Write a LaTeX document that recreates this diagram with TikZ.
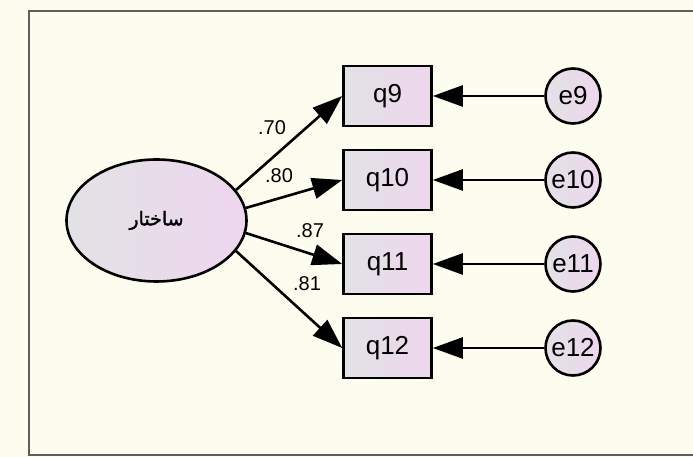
\documentclass[tikz,border=0pt]{standalone}
\usepackage{fontspec}
\setmainfont{Liberation Sans}
\newfontfamily\arabicfont[Script=Arabic,FakeBold=1.5]{DejaVu Sans}
\TeXXeTstate=1
\usetikzlibrary{shapes.geometric,arrows.meta}
\definecolor{paper}{RGB}{253,253,239}
\definecolor{framegray}{RGB}{95,95,95}
\definecolor{fillgray}{RGB}{226,226,229}
\definecolor{fillpink}{RGB}{238,214,238}
\tikzset{
  obs/.style={draw, line width=2.6pt, left color=fillgray, right color=fillpink,
    minimum width=88pt, minimum height=60pt, inner sep=0pt, font=\fontsize{26}{26}\selectfont},
  err/.style={circle, draw, line width=2.6pt, left color=fillgray, right color=fillpink,
    minimum size=55pt, inner sep=0pt, font=\fontsize{26}{26}\selectfont},
  lat/.style={ellipse, draw, line width=2.6pt, left color=fillgray, right color=fillpink,
    minimum width=180pt, minimum height=122pt, inner sep=0pt},
  load/.style={font=\fontsize{20}{20}\selectfont, inner sep=0pt},
  conn/.style={line width=2.6pt, -{Triangle[length=30pt,width=21pt]}}
}
\begin{document}
\begin{tikzpicture}[x=1pt,y=1pt]
        \fill[paper] (0,0) rectangle (693,457);
        \clip (0,0) rectangle (693,457);
        \draw[framegray, line width=1.6pt] (29,2) rectangle (720,446);
        % latent variable
        \node[lat] (sakhtar) at (156.5,236.5) {\fontsize{19}{19}\arabicfont\beginR ساختار\endR};
        % items and errors
        \node[obs] (q9) at (387.5,361) {q9};
        \node[obs] (q10) at (387.5,277) {q10};
        \node[obs] (q11) at (387.5,193) {q11};
        \node[obs] (q12) at (387.5,109) {q12};
        \node[err] (e9) at (573,361) {e9};
        \node[err] (e10) at (573,277) {e10};
        \node[err] (e11) at (573,193) {e11};
        \node[err] (e12) at (573,109) {e12};
        % loadings
        \draw[conn] (sakhtar.21) -- (q9.west);
        \draw[conn] (sakhtar.8) -- (q10.west);
        \draw[conn] (sakhtar.-8) -- (q11.west);
        \draw[conn] (sakhtar.-21) -- (q12.west);
        \node[load] (l9) at (272,329) {.70};
        \node[load] (l10) at (279,281) {.80};
        \node[load] (l11) at (310,226) {.87};
        \node[load] (l12) at (307,173) {.81};
        % error terms
        \draw[conn] (e9) -- (q9);
        \draw[conn] (e10) -- (q10);
        \draw[conn] (e11) -- (q11);
        \draw[conn] (e12) -- (q12);
\end{tikzpicture}
\end{document}
